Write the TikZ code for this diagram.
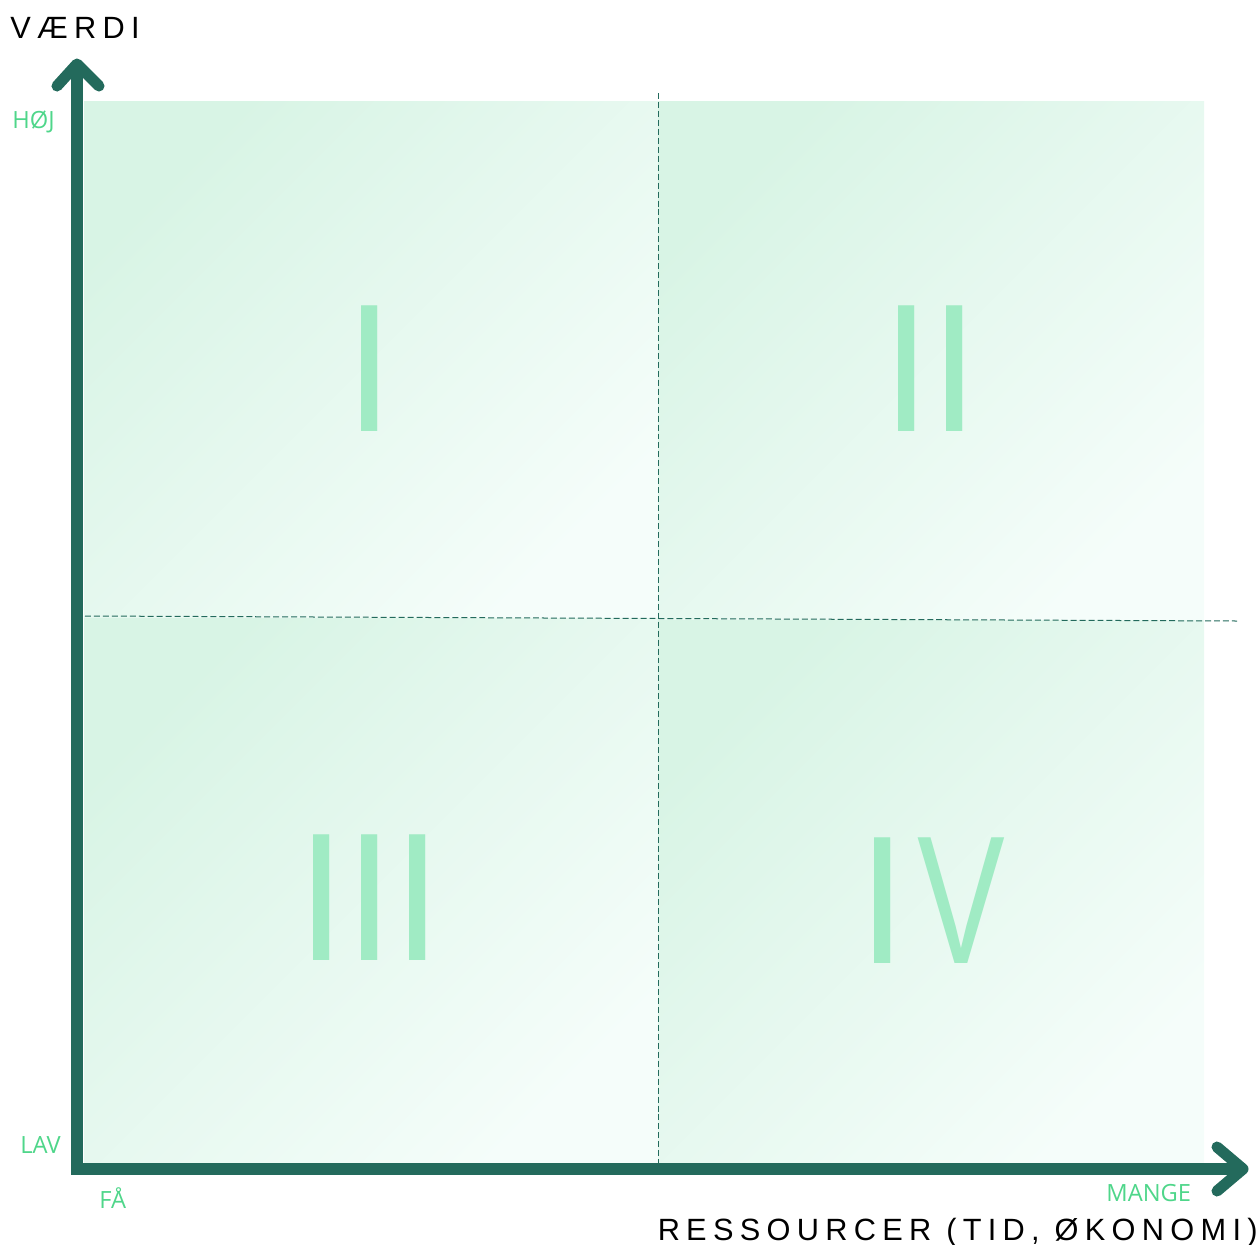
\documentclass[tikz,border=0pt]{standalone}
\usepackage{fontspec}
\usepackage{graphicx}
\setmainfont{Liberation Sans}
\newfontfamily\axisfont[LetterSpace=20.5]{Liberation Sans}
\newfontfamily\levelfont{Open Sans}
\definecolor{axisgreen}{HTML}{236A5C}
\definecolor{mintA}{HTML}{D8F4E5}
\definecolor{mintB}{HTML}{F5FDFA}
\definecolor{numgreen}{HTML}{A0EBC4}
\definecolor{levelgreen}{HTML}{4FD68A}
\newcommand{\narrow}[1]{\scalebox{0.95}[1]{#1}}
\tikzset{
  quadrant/.style={top color=mintA,bottom color=mintB,shading angle=45,draw=none},
  divider/.style={axisgreen,line width=0.57pt,dash pattern=on 3.4pt off 1.7pt},
  axisline/.style={axisgreen,line width=6.3pt,line join=miter},
  axistip/.style={axisgreen,line width=6.3pt,line cap=round,line join=round},
  numeral/.style={anchor=base,inner sep=0pt,text=numgreen,font=\fontsize{104}{104}\selectfont},
  level/.style={anchor=base west,inner sep=0pt,text=levelgreen,font=\levelfont\fontsize{13.5}{13.5}\selectfont},
  axistitle/.style={inner sep=0pt,text=black,font=\axisfont\fontsize{17.5}{17.5}\selectfont}
}
\begin{document}
\begin{tikzpicture}[x=0.02cm,y=-0.02cm]
  \useasboundingbox (0,0) rectangle (1259,1245);
  % quadrants
  \shade[quadrant] (84,101) rectangle (658,618);
  \shade[quadrant] (658,101) rectangle (1204,620);
  \shade[quadrant] (84,618) rectangle (658,1163);
  \shade[quadrant] (658,620) rectangle (1204,1163);
  % dividers
  \draw[divider] (85,616) -- (1237,621);
  \draw[divider] (658,93) -- (658,1163);
  % axes
  \draw[axisline] (77,66) -- (77,1169) -- (1240,1169);
  \draw[axistip] (57,86) -- (77,64) -- (99,86);
  \draw[axistip] (1217,1147) -- (1243,1169) -- (1217,1191);
  % numerals
  \node[numeral] (q1) at (369.5,431) {\narrow{I}};
  \node[numeral] (q2) at (930.5,431) {\narrow{II}};
  \node[numeral] (q3) at (369.5,960) {\narrow{III}};
  \node[numeral] (q4) at (932,963) {\narrow{I}\hspace{6pt}\scalebox{0.72}[1]{V}};
  % levels
  \node[level] (high) at (12,128) {HØJ};
  \node[level] (low) at (20,1153) {LAV};
  \node[level] (few) at (99,1208) {FÅ};
  \node[level] (many) at (1106,1201) {MANGE};
  % axis titles
  \node[axistitle,anchor=base west] (value) at (10,38) {VÆRDI};
  \node[axistitle,anchor=base east] (resources) at (1258,1240) {RESSOURCER (TID, ØKONOMI)};
\end{tikzpicture}
\end{document}
